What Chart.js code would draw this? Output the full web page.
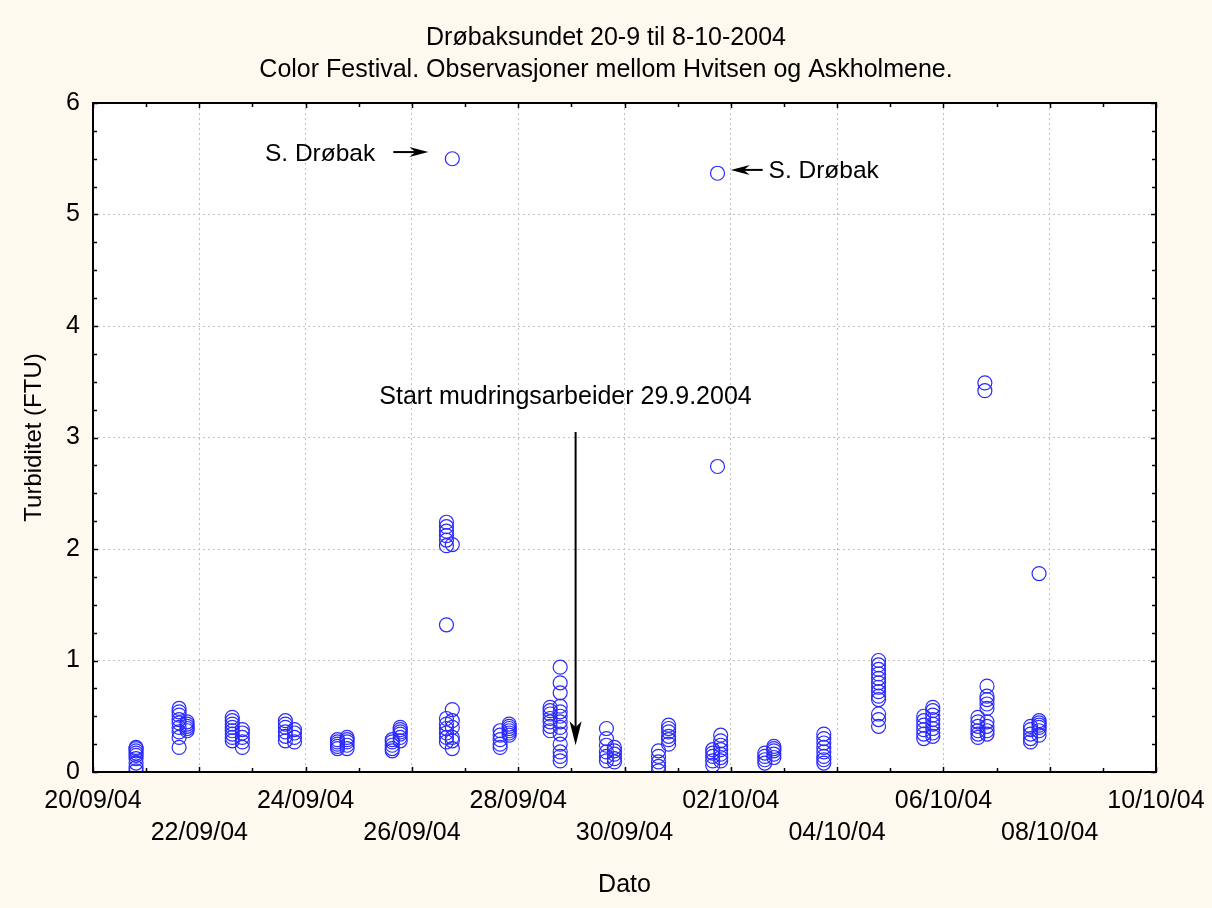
<!DOCTYPE html>
<html>
<head>
<meta charset="utf-8">
<script src="https://cdn.jsdelivr.net/npm/chart.js@4.4.1/dist/chart.umd.min.js"></script>
<style>
  html, body { margin: 0; padding: 0; background: #fdf9ee; }
  canvas { display: block; }
</style>
</head>
<body>
<canvas id="c" width="1212" height="908"></canvas>
<script>
// ---- Data (x = days after 20/09/04, y = turbidity FTU) ----
const titleLines = ['Drøbaksundet 20-9 til 8-10-2004', 'Color Festival. Observasjoner mellom Hvitsen og Askholmene.'];
const xTitle = 'Dato';
const yTitle = 'Turbiditet (FTU)';
const tickLabels = ['20/09/04','22/09/04','24/09/04','26/09/04','28/09/04','30/09/04','02/10/04','04/10/04','06/10/04','08/10/04','10/10/04'];
const columnDays = [0.81, 1.62, 1.77, 2.62, 2.81, 3.62, 3.79, 4.60, 4.78, 5.63, 5.78,
  6.65, 6.76, 7.66, 7.83, 8.60, 8.79, 9.66, 9.81, 10.64, 10.83, 11.66, 11.75, 11.81,
  12.64, 12.81, 13.75, 14.78, 15.63, 15.80, 16.65, 16.78, 16.82, 17.64, 17.80];
const columnValues = [
  [0.22,0.21,0.19,0.17,0.15,0.12,0.08,0.04,0.01],
  [0.57,0.54,0.51,0.47,0.44,0.40,0.36,0.31,0.22],
  [0.45,0.43,0.41,0.39,0.37],
  [0.49,0.46,0.43,0.40,0.37,0.34,0.31,0.28],
  [0.38,0.35,0.31,0.27,0.22],
  [0.46,0.43,0.40,0.36,0.32,0.28],
  [0.38,0.35,0.31,0.27],
  [0.29,0.27,0.25,0.23,0.21],
  [0.31,0.29,0.27,0.24,0.21],
  [0.29,0.27,0.24,0.21,0.19],
  [0.40,0.38,0.36,0.34,0.31,0.28],
  [2.24,2.20,2.16,2.12,2.08,2.03,1.32,0.48,0.43,0.39,0.35,0.31,0.27],
  [5.50,2.04,0.56,0.46,0.40,0.31,0.28,0.21],
  [0.37,0.33,0.29,0.25,0.22],
  [0.43,0.41,0.39,0.37,0.35,0.33],
  [0.58,0.55,0.52,0.48,0.45,0.41,0.37],
  [0.94,0.80,0.71,0.59,0.54,0.50,0.45,0.40,0.34,0.25,0.18,0.14,0.10],
  [0.39,0.30,0.24,0.18,0.14,0.10],
  [0.22,0.19,0.16,0.12,0.09],
  [0.19,0.14,0.09,0.05,0.01],
  [0.42,0.39,0.36,0.32,0.29,0.25],
  [0.20,0.17,0.14,0.10,0.06],
  [5.37,2.74],
  [0.33,0.28,0.24,0.20,0.16,0.13,0.10],
  [0.17,0.14,0.11,0.08],
  [0.23,0.21,0.19,0.16,0.13],
  [0.34,0.30,0.26,0.22,0.18,0.14,0.11,0.08],
  [1.00,0.96,0.92,0.88,0.84,0.80,0.76,0.72,0.68,0.65,0.52,0.47,0.41],
  [0.50,0.46,0.42,0.38,0.34,0.30],
  [0.58,0.55,0.51,0.47,0.43,0.39,0.35,0.32],
  [0.49,0.45,0.41,0.37,0.34,0.31],
  [3.49,3.42],
  [0.77,0.68,0.65,0.61,0.57,0.45,0.41,0.37,0.34],
  [0.41,0.38,0.34,0.30,0.27],
  [1.78,0.46,0.44,0.42,0.40,0.37,0.33]
];
// Annotations in data coordinates
const annoTexts = [
  { text: 'S. Drøbak', x: 5.31, y: 5.54, align: 'right' },
  { text: 'S. Drøbak', x: 12.71, y: 5.39, align: 'left' },
  { text: 'Start mudringsarbeider 29.9.2004', x: 8.89, y: 3.36, align: 'center' }
];
const annoArrows = [
  { x0: 5.65, y0: 5.56, x1: 6.31, y1: 5.56, L: 19, W: 5 },
  { x0: 12.60, y0: 5.40, x1: 12.00, y1: 5.40, L: 19, W: 5 },
  { x0: 9.08, y0: 3.05, x1: 9.08, y1: 0.24, L: 24, W: 6 }
];

const points = [];
columnDays.forEach((d, i) => columnValues[i].forEach(v => points.push({ x: d, y: v })));

const FONT = "'Liberation Sans', Arial, sans-serif";

const decor = {
  id: 'decor',
  beforeDraw(chart) {
    const { ctx, chartArea: a } = chart;
    ctx.save();
    ctx.fillStyle = '#fdf9ee';
    ctx.fillRect(0, 0, chart.width, chart.height);
    ctx.fillStyle = '#ffffff';
    ctx.fillRect(a.left, a.top, a.right - a.left, a.bottom - a.top);
    ctx.restore();
  },
  afterDatasetsDraw(chart) {
    const { ctx, chartArea: a, scales: { x, y } } = chart;
    ctx.save();
    // frame
    ctx.strokeStyle = '#000';
    ctx.lineWidth = 2;
    ctx.strokeRect(a.left, a.top, a.right - a.left, a.bottom - a.top);
    // x ticks (inward, top and bottom)
    ctx.lineWidth = 1.5;
    for (let d = 0; d <= 20; d++) {
      const px = Math.round(x.getPixelForValue(d)) + 0.5;
      const len = d % 2 === 0 ? 5 : 4;
      ctx.beginPath();
      ctx.moveTo(px, a.bottom); ctx.lineTo(px, a.bottom - len);
      ctx.moveTo(px, a.top); ctx.lineTo(px, a.top + len);
      ctx.stroke();
    }
    for (let v = 0; v <= 6.001; v += 0.25) {
      const py = Math.round(y.getPixelForValue(v)) + 0.5;
      const len = Math.abs(v - Math.round(v)) < 1e-6 ? 5 : 4;
      ctx.beginPath();
      ctx.moveTo(a.left, py); ctx.lineTo(a.left + len, py);
      ctx.moveTo(a.right, py); ctx.lineTo(a.right - len, py);
      ctx.stroke();
    }
    // annotation texts
    ctx.fillStyle = '#000';
    ctx.textBaseline = 'middle';
    annoTexts.forEach(t => {
      ctx.font = (t.align === 'center' ? '25px ' : '24.5px ') + FONT;
      ctx.textAlign = t.align;
      ctx.fillText(t.text, x.getPixelForValue(t.x), y.getPixelForValue(t.y));
    });
    // arrows
    annoArrows.forEach(ar => {
      const x0 = x.getPixelForValue(ar.x0), y0 = y.getPixelForValue(ar.y0);
      const x1 = x.getPixelForValue(ar.x1), y1 = y.getPixelForValue(ar.y1);
      const ang = Math.atan2(y1 - y0, x1 - x0);
      const L = ar.L, W = ar.W, notch = 6;
      ctx.strokeStyle = '#000';
      ctx.lineWidth = 2;
      ctx.beginPath();
      ctx.moveTo(x0, y0);
      ctx.lineTo(x1 - Math.cos(ang) * (L - notch), y1 - Math.sin(ang) * (L - notch));
      ctx.stroke();
      const bx = x1 - Math.cos(ang) * L, by = y1 - Math.sin(ang) * L;
      const nx = -Math.sin(ang), ny = Math.cos(ang);
      ctx.beginPath();
      ctx.moveTo(x1, y1);
      ctx.lineTo(bx + nx * W, by + ny * W);
      ctx.lineTo(x1 - Math.cos(ang) * (L - notch), y1 - Math.sin(ang) * (L - notch));
      ctx.lineTo(bx - nx * W, by - ny * W);
      ctx.closePath();
      ctx.fillStyle = '#000';
      ctx.fill();
    });
    ctx.restore();
  }
};

new Chart(document.getElementById('c'), {
  type: 'scatter',
  data: {
    datasets: [{
      data: points,
      pointStyle: 'circle',
      pointRadius: 7,
      pointHoverRadius: 7,
      borderWidth: 1.2,
      borderColor: '#2a2aff',
      backgroundColor: 'rgba(0,0,0,0)'
    }]
  },
  options: {
    responsive: false,
    animation: false,
    devicePixelRatio: 1,
    events: [],
    layout: { padding: 0 },
    plugins: {
      legend: { display: false },
      tooltip: { enabled: false },
      title: {
        display: true,
        text: titleLines,
        color: '#000',
        font: { family: FONT, size: 25, weight: 'normal', lineHeight: 1.28 },
        padding: { top: 22, bottom: 17 }
      }
    },
    scales: {
      x: {
        type: 'linear',
        min: 0, max: 20,
        afterFit(s) { s.height = 136; s.paddingLeft = 0; s.paddingRight = 0; },
        border: { display: false, dash: [2, 3] },
        grid: {
          drawTicks: false,
          lineWidth: 1,
          color: c => (c.tick && c.tick.value % 2 === 0 && c.tick.value > 0 && c.tick.value < 20) ? '#c2c2c2' : 'rgba(0,0,0,0)'
        },
        ticks: {
          stepSize: 1,
          autoSkip: false,
          maxRotation: 0,
          minRotation: 0,
          padding: 13,
          color: '#000',
          font: { family: FONT, size: 25, lineHeight: 1.28 },
          callback: v => {
            if (v % 2 !== 0) return '';
            const idx = v / 2;
            const lab = tickLabels[idx];
            return idx % 2 === 0 ? lab : ['', lab];
          }
        },
        title: {
          display: true,
          text: xTitle,
          color: '#000',
          font: { family: FONT, size: 25, lineHeight: 1.28 },
          padding: { top: 0, bottom: 7 }
        }
      },
      y: {
        min: 0, max: 6,
        afterFit(s) { s.width = 93; },
        border: { display: false, dash: [2, 3] },
        grid: {
          drawTicks: false,
          lineWidth: 1,
          color: c => (c.tick && c.tick.value > 0 && c.tick.value < 6) ? '#c2c2c2' : 'rgba(0,0,0,0)'
        },
        ticks: {
          stepSize: 1,
          padding: 13,
          color: '#000',
          font: { family: FONT, size: 25 }
        },
        title: {
          display: true,
          text: yTitle,
          color: '#000',
          font: { family: FONT, size: 24, lineHeight: 1.33 },
          padding: { top: 18, bottom: 0 }
        }
      },
      yRight: {
        position: 'right',
        min: 0, max: 6,
        afterFit(s) { s.width = 56; },
        border: { display: false },
        grid: { display: false, drawTicks: false },
        ticks: { display: false }
      }
    }
  },
  plugins: [decor]
});
</script>
</body>
</html>
